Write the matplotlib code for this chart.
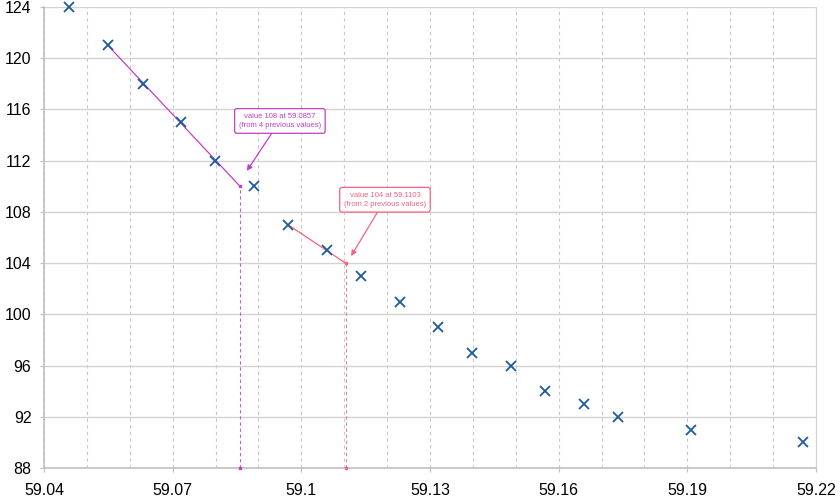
import matplotlib
matplotlib.use("Agg")
import matplotlib.pyplot as plt
from matplotlib.ticker import MultipleLocator, FixedLocator
from matplotlib import font_manager

# data
xs = [59.0458, 59.0549, 59.0631, 59.0719, 59.0799, 59.0890, 59.0969, 59.1060,
      59.1139, 59.1230, 59.1319, 59.1398, 59.1489, 59.1568, 59.1659, 59.1738,
      59.1909, 59.2170]
ys = [124, 121, 118, 115, 112, 110, 107, 105, 103, 101, 99, 97, 96, 94, 93, 92, 91, 90]

# extrapolations: (start index of fit, x of estimate, y of estimate)
est_start_idx = [1, 6]
est_x = [59.0857, 59.1103]
est_y = [110, 104]
est_labels = ["value 108 at 59.0857\n(from 4 previous values)",
              "value 104 at 59.1103\n(from 2 previous values)"]
est_colors = ["#c23fc6", "#f5637d"]
arrow_tip = [(59.0873, 111.2), (59.1116, 104.55)]
box_center = [(59.0950, 115.1), (59.1195, 108.95)]

x_ticks = [59.04, 59.07, 59.1, 59.13, 59.16, 59.19, 59.22]
x_ticklabels = ["59.04", "59.07", "59.1", "59.13", "59.16", "59.19", "59.22"]
y_ticks = [88, 92, 96, 100, 104, 108, 112, 116, 120, 124]

plt.rcParams['font.family'] = ['Liberation Sans', 'DejaVu Sans']

names = {f.name for f in font_manager.fontManager.ttflist}
ann_family = ['Liberation Sans Narrow'] if 'Liberation Sans Narrow' in names else ['Liberation Sans']
ann_size = 6.3 if 'Liberation Sans Narrow' in names else 5.5

fig = plt.figure(figsize=(8.4, 5.0), dpi=100)
ax = fig.add_axes([44/840, 1-468/500, (816-44)/840, (468-7)/500])

ax.set_xlim(59.04, 59.22)
ax.set_ylim(88, 124)

ax.xaxis.set_major_locator(FixedLocator(x_ticks))
ax.set_xticklabels(x_ticklabels)
ax.xaxis.set_minor_locator(MultipleLocator(0.01))
ax.yaxis.set_major_locator(FixedLocator(y_ticks))

ax.grid(axis='y', which='major', color='#d2d2d2', lw=1.0, ls='-')
ax.grid(axis='x', which='both', color='#c8c8c8', lw=0.8, ls=(0, (3, 3)))
ax.set_axisbelow(True)

ax.spines['top'].set_visible(False)
ax.spines['left'].set_color('#c0c0c0')
ax.spines['bottom'].set_color('#c0c0c0')
ax.spines['right'].set_color('#d2d2d2')
ax.spines['left'].set_linewidth(1.2)
ax.spines['bottom'].set_linewidth(1.2)

ax.tick_params(axis='both', which='major', length=3, color='#c0c0c0', labelsize=11.5)
ax.tick_params(axis='x', which='minor', length=0)
ax.tick_params(axis='y', pad=6)
ax.tick_params(axis='x', pad=8)

# regression lines + vertical dashed drops
for i in range(len(est_x)):
    c = est_colors[i]
    s = est_start_idx[i]
    ax.plot([xs[s], est_x[i]], [ys[s], est_y[i]], color=c, lw=0.9, zorder=3)
    ax.plot([est_x[i], est_x[i]], [88, est_y[i]], color=c, lw=0.8, alpha=0.85,
            ls=(0, (3, 2.5)), zorder=3, clip_on=False)
    ax.plot([est_x[i], est_x[i]], [est_y[i], 88], ls='none', marker='s',
            ms=2, color=c, zorder=4, clip_on=False)
    ax.annotate(est_labels[i], xy=arrow_tip[i], xytext=box_center[i],
                ha='center', va='center', fontsize=ann_size, color=c,
                family=ann_family, linespacing=1.45,
                bbox=dict(boxstyle='round,pad=0.55,rounding_size=0.3',
                          fc='white', ec=c, lw=0.9),
                arrowprops=dict(arrowstyle='-|>', color=c, lw=0.9,
                                mutation_scale=8, shrinkA=0, shrinkB=0),
                zorder=6)

ax.plot(xs, ys, ls='none', marker='x', ms=7, mew=1.3, color='#1d5c9c',
        zorder=5, clip_on=False)

fig.savefig('out.png', dpi=100)
